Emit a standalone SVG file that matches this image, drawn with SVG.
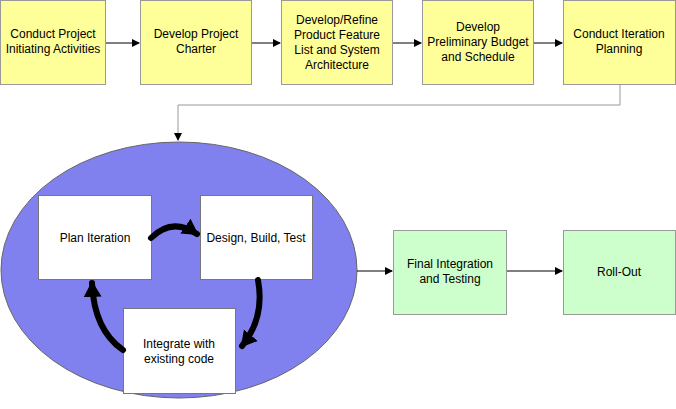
<svg xmlns="http://www.w3.org/2000/svg" width="676" height="409" viewBox="0 0 676 409">
<defs>
<style>
.y{fill:#ffff99;stroke:#999;stroke-width:1}
.g{fill:#ccffcc;stroke:#999;stroke-width:1}
.w{fill:#fff;stroke:#777;stroke-width:1}
text{font-family:"Liberation Sans",Arial,sans-serif;font-size:12px;fill:#000;text-anchor:middle}
.c{stroke:#000;stroke-width:1;fill:none;marker-end:url(#a)}
.c2{stroke:#999;stroke-width:1;fill:none;marker-end:url(#a)}
.t{stroke:#000;stroke-width:6;fill:none;stroke-linecap:round;marker-end:url(#b)}
</style>
<marker id="a" markerWidth="8" markerHeight="8" refX="7" refY="4" orient="auto" markerUnits="userSpaceOnUse"><path d="M0,0L8,4L0,8z" fill="#000"/></marker>
<marker id="b" markerWidth="20" markerHeight="20" refX="14" refY="10" orient="auto" markerUnits="userSpaceOnUse"><path d="M0,1L16,10L0,19z" fill="#000"/></marker>
</defs>
<g id="n1"><rect class="y" x="0.5" y="0.5" width="105" height="84"/><text x="53" y="38">Conduct Project</text><text x="53" y="53">Initiating Activities</text></g>
<g id="n2"><rect class="y" x="140.5" y="0.5" width="111" height="84"/><text x="196" y="38">Develop Project</text><text x="196" y="53">Charter</text></g>
<g id="n3"><rect class="y" x="281.5" y="0.5" width="111" height="84"/><text x="337" y="24">Develop/Refine</text><text x="337" y="39">Product Feature</text><text x="337" y="54">List and System</text><text x="337" y="69">Architecture</text></g>
<g id="n4"><rect class="y" x="422.5" y="0.5" width="111" height="84"/><text x="478" y="31">Develop</text><text x="478" y="46">Preliminary Budget</text><text x="478" y="61">and Schedule</text></g>
<g id="n5"><rect class="y" x="563.5" y="0.5" width="112" height="84"/><text x="619" y="38">Conduct Iteration</text><text x="619" y="53">Planning</text></g>
<g id="loop"><ellipse cx="179" cy="270" rx="178" ry="128" fill="#8080ee" stroke="#666" stroke-width="1"/></g>
<g id="n6"><rect class="w" x="38.5" y="195.5" width="113" height="84"/><text x="95" y="242">Plan Iteration</text></g>
<g id="n7"><rect class="w" x="200.5" y="195.5" width="112" height="84"/><text x="256" y="242">Design, Build, Test</text></g>
<g id="n8"><rect class="w" x="123.5" y="308.5" width="112" height="85"/><text x="179" y="348">Integrate with</text><text x="179" y="363">existing code</text></g>
<g id="n9"><rect class="g" x="393.5" y="230.5" width="113" height="84"/><text x="450" y="268">Final Integration</text><text x="450" y="283">and Testing</text></g>
<g id="n10"><rect class="g" x="563.5" y="230.5" width="112" height="84"/><text x="619" y="276">Roll-Out</text></g>
<g id="connectors">
<path class="c" d="M106,43H139"/>
<path class="c" d="M252,43H280"/>
<path class="c" d="M393,43H421"/>
<path class="c" d="M534,43H562"/>
<path class="c2" d="M620,85V105H178V140"/>
<path class="c" d="M357,271H392"/>
<path class="c" d="M507,271H562"/>
<path class="t" d="M151,238Q172,217 197,234"/>
<path class="t" d="M258,280Q265,318 242,346"/>
<path class="t" d="M123,350Q94,330 92,283"/>
</g>
</svg>
